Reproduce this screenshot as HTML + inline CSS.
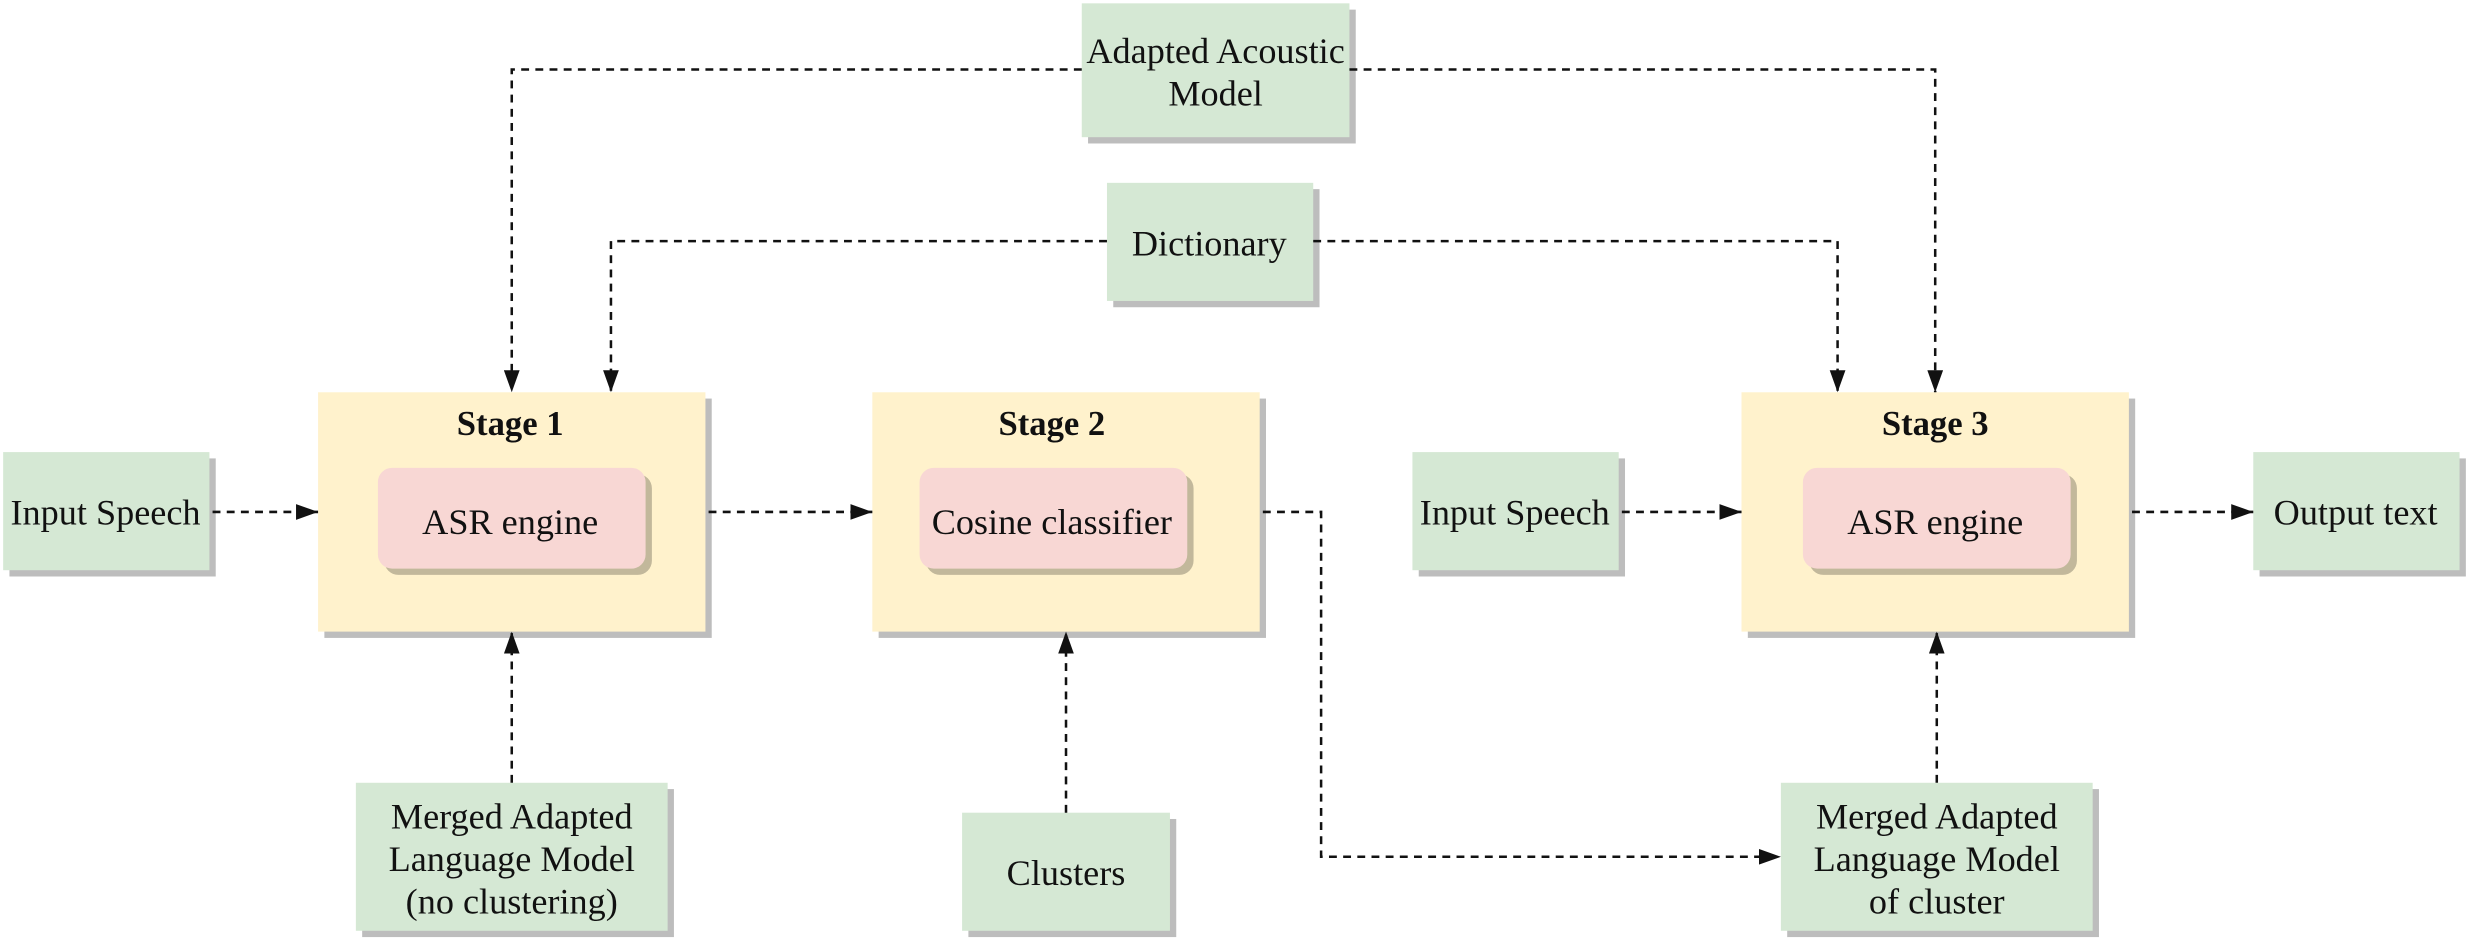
<!DOCTYPE html>
<html><head><meta charset="utf-8"><style>
html,body{margin:0;padding:0;background:#fff;}
svg{display:block;}
text{font-family:"Liberation Serif",serif;font-size:23px;fill:#111;text-anchor:middle;}
.b{font-weight:bold;font-size:22px;}
.g{fill:#d5e8d4;}
.y{fill:#fff2cc;}
.p{fill:#f8d7d4;}
.s{fill:#bdbdbd;}
.s2{fill:#c2b89b;}
.l{stroke:#111;stroke-width:1.6;fill:none;stroke-dasharray:5,4;marker-end:url(#a);}
</style></head><body>
<svg width="2469" height="942" viewBox="0 0 1568 598" xmlns="http://www.w3.org/2000/svg">
<defs><marker id="a" markerWidth="14" markerHeight="10" refX="14" refY="5" orient="auto" markerUnits="userSpaceOnUse"><path d="M0,0 L14,5 L0,10 z" fill="#111"/></marker></defs>
<rect class="s" x="691" y="6" width="170" height="85"/>
<rect class="s" x="707" y="120" width="131" height="75"/>
<rect class="s" x="206" y="253" width="246" height="152"/>
<rect class="s" x="558" y="253" width="246" height="152"/>
<rect class="s" x="1110" y="253" width="246" height="152"/>
<rect class="s" x="6" y="291" width="131" height="75"/>
<rect class="s" x="901" y="291" width="131" height="75"/>
<rect class="s" x="1435" y="291" width="131" height="75"/>
<rect class="s" x="230" y="501" width="198" height="94"/>
<rect class="s" x="615" y="520" width="132" height="75"/>
<rect class="s" x="1135" y="501" width="198" height="94"/>
<rect class="g" x="687" y="2" width="170" height="85"/>
<text x="772" y="40">Adapted Acoustic</text><text x="772" y="67">Model</text>
<rect class="g" x="703" y="116" width="131" height="75"/>
<text x="768" y="162">Dictionary</text>
<rect class="y" x="202" y="249" width="246" height="152"/>
<text class="b" x="324" y="276">Stage 1</text>
<rect class="s2" x="244" y="301" width="170" height="64" rx="9"/>
<rect class="p" x="240" y="297" width="170" height="64" rx="9"/>
<text x="324" y="339">ASR engine</text>
<rect class="y" x="554" y="249" width="246" height="152"/>
<text class="b" x="668" y="276">Stage 2</text>
<rect class="s2" x="588" y="301" width="170" height="64" rx="9"/>
<rect class="p" x="584" y="297" width="170" height="64" rx="9"/>
<text x="668" y="339">Cosine classifier</text>
<rect class="y" x="1106" y="249" width="246" height="152"/>
<text class="b" x="1229" y="276">Stage 3</text>
<rect class="s2" x="1149" y="301" width="170" height="64" rx="9"/>
<rect class="p" x="1145" y="297" width="170" height="64" rx="9"/>
<text x="1229" y="339">ASR engine</text>
<rect class="g" x="2" y="287" width="131" height="75"/>
<text x="67" y="333">Input Speech</text>
<rect class="g" x="897" y="287" width="131" height="75"/>
<text x="962" y="333">Input Speech</text>
<rect class="g" x="1431" y="287" width="131" height="75"/>
<text x="1496" y="333">Output text</text>
<rect class="g" x="226" y="497" width="198" height="94"/>
<text x="325" y="526">Merged Adapted</text><text x="325" y="553">Language Model</text><text x="325" y="580">(no clustering)</text>
<rect class="g" x="611" y="516" width="132" height="75"/>
<text x="677" y="562">Clusters</text>
<rect class="g" x="1131" y="497" width="198" height="94"/>
<text x="1230" y="526">Merged Adapted</text><text x="1230" y="553">Language Model</text><text x="1230" y="580">of cluster</text>
<path class="l" d="M687,44 H325 V249"/>
<path class="l" d="M857,44 H1229 V249"/>
<path class="l" d="M703,153 H388 V249"/>
<path class="l" d="M834,153 H1167 V249"/>
<path class="l" d="M135,325 H202"/>
<path class="l" d="M450,325 H554"/>
<path class="l" d="M802,325 H839 V544 H1131"/>
<path class="l" d="M1030,325 H1106"/>
<path class="l" d="M1354,325 H1431"/>
<path class="l" d="M325,497 V401"/>
<path class="l" d="M677,516 V401"/>
<path class="l" d="M1230,497 V401"/>
</svg>
</body></html>
